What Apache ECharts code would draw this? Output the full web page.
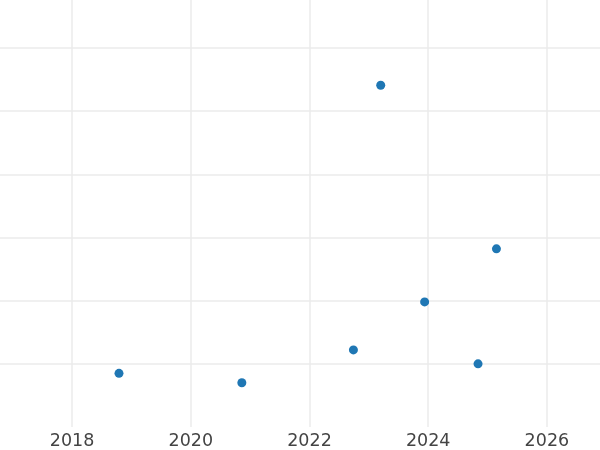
<!DOCTYPE html>
<html>
<head>
<meta charset="utf-8">
<style>html,body{margin:0;padding:0;background:#fff}#c{width:600px;height:450px}</style>
<script src="https://cdn.jsdelivr.net/npm/echarts@6/dist/echarts.min.js"></script>
</head>
<body>
<div id="c"></div>
<script>
const xYears = [2018.79, 2020.86, 2022.74, 2023.20, 2023.94, 2024.84, 2025.15];
const yValues = [0.85, 0.70, 1.22, 5.41, 1.98, 1.00, 2.82];
const xRange = [2016.785, 2026.895];
const yRange = [0, 6.76];

const chart = echarts.init(document.getElementById('c'), null, {renderer: 'canvas'});
chart.setOption({
  animation: false,
  backgroundColor: '#ffffff',
  grid: {left: 0, right: 0, top: 0, bottom: 22, containLabel: false},
  xAxis: {
    type: 'value', min: xRange[0], max: xRange[1], splitNumber: 5,
    axisLine: {show: false}, axisTick: {show: false},
    axisLabel: {
      showMinLabel: false, showMaxLabel: false, margin: 5,
      fontFamily: 'DejaVu Sans', fontSize: 17.5, color: '#444',
      formatter: v => String(Math.round(v))
    },
    splitLine: {show: true, showMinLine: false, showMaxLine: false, lineStyle: {color: '#ebebeb', width: 1.5}}
  },
  yAxis: {
    type: 'value', min: yRange[0], max: yRange[1], interval: 1,
    axisLine: {show: false}, axisTick: {show: false}, axisLabel: {show: false},
    splitLine: {show: true, showMinLine: false, showMaxLine: false, lineStyle: {color: '#ebebeb', width: 1.5}}
  },
  series: [{
    type: 'scatter', symbolSize: 9,
    itemStyle: {color: '#1f77b4', opacity: 1},
    data: xYears.map((x, i) => [x, yValues[i]])
  }]
});
</script>
</body>
</html>
